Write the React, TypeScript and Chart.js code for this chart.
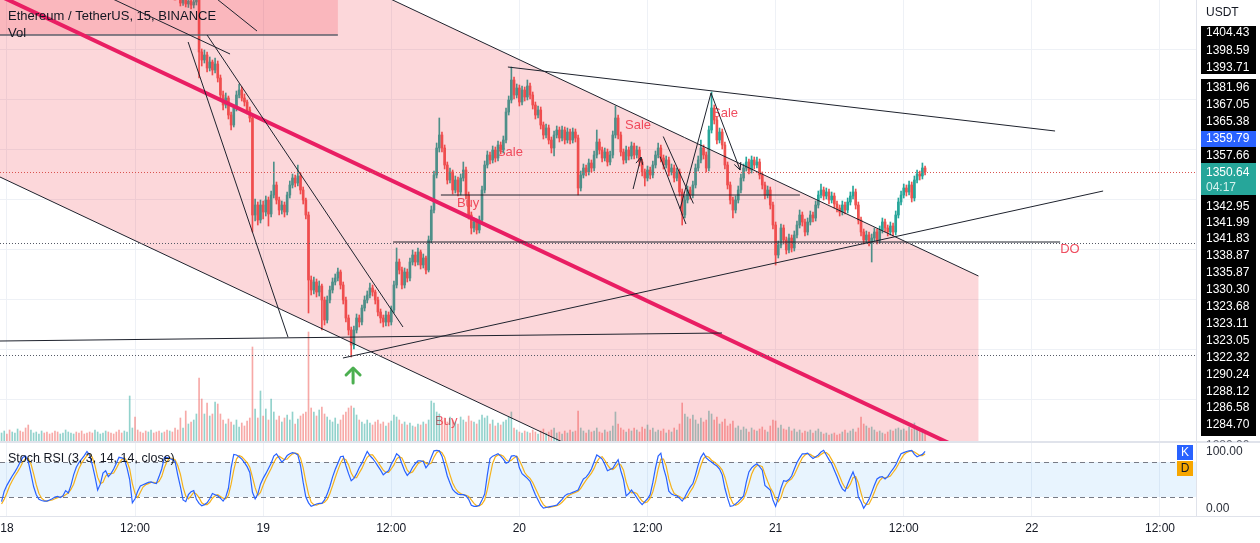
import React, { useEffect, useRef } from "react";
import { Chart, registerables } from "chart.js";

Chart.register(...registerables);

// ---------------- data ----------------
// bar index: 15-minute bars, 0 = day 18 00:00
const FIRST_BAR_INDEX = -2;
const CANDLE_START_INDEX = 60;
const FIRST_OPEN = 1392.0;

const CLOSES: number[] = [
  1392.5, 1393.8, 1392.1, 1391.0, 1392.6, 1394.2, 1395.0, 1393.6, 1392.2, 1390.8,
  1389.9, 1391.4, 1392.8, 1394.0, 1395.6, 1396.2, 1394.8, 1393.5, 1392.0, 1391.2,
  1390.4, 1389.6, 1390.8, 1392.2, 1393.0, 1394.4, 1395.8, 1397.0, 1396.4, 1395.1,
  1393.8, 1392.6, 1391.5, 1390.2, 1389.4, 1390.6, 1391.8, 1393.2, 1394.6, 1395.2,
  1394.0, 1392.8, 1391.6, 1390.4, 1389.2, 1388.6, 1389.8, 1390.6, 1391.4, 1392.2,
  1391.0, 1390.2, 1389.4, 1388.8, 1388.2, 1389.0, 1389.8, 1389.0, 1388.2, 1387.6,
  1388.0, 1387.4, 1386.8, 1387.2, 1386.6, 1386.4,
  1386.0, 1384.4, 1385.4, 1384.2, 1384.8, 1384.0, 1384.6, 1385.0, 1374.6, 1373.0,
  1374.0, 1371.4, 1372.6, 1371.0, 1372.2, 1369.4, 1366.0, 1364.0, 1365.4, 1362.0,
  1360.0, 1363.4, 1366.0, 1367.0, 1365.4, 1364.6, 1363.0, 1361.4, 1342.0, 1344.0,
  1341.0, 1344.0, 1342.6, 1345.0, 1342.2, 1346.0, 1348.0, 1345.0, 1343.0, 1344.0,
  1342.6, 1346.0, 1348.0, 1349.4, 1348.4, 1349.8, 1347.0, 1345.0, 1342.0, 1329.0,
  1327.0, 1328.6, 1326.6, 1327.8, 1325.0, 1321.0, 1325.0, 1327.0, 1328.6, 1329.4,
  1330.6, 1328.0, 1325.0, 1321.4, 1319.0, 1316.0, 1319.0, 1321.4, 1320.6, 1323.4,
  1325.0, 1326.0, 1327.4, 1326.6, 1325.0, 1322.6, 1321.4, 1320.6, 1322.0, 1320.6,
  1323.0, 1328.0, 1332.6, 1331.0, 1328.0, 1330.6, 1329.4, 1332.6, 1334.0, 1332.6,
  1334.6, 1332.0, 1333.4, 1331.0, 1337.0, 1343.0, 1350.0, 1355.4, 1358.0, 1355.4,
  1352.0, 1349.0, 1350.6, 1347.0, 1349.0, 1346.6, 1349.4, 1351.0, 1346.0, 1342.0,
  1339.4, 1340.6, 1339.0, 1341.0, 1347.0, 1352.0, 1354.0, 1353.0, 1355.0, 1353.4,
  1356.0, 1355.0, 1357.0, 1362.6, 1365.0, 1369.0, 1366.0, 1367.4, 1364.6, 1367.0,
  1365.6, 1367.8, 1366.0, 1364.0, 1362.0, 1363.0, 1360.0, 1358.0, 1359.4, 1357.0,
  1355.4, 1358.0, 1359.0, 1357.4, 1359.0, 1357.0, 1358.6, 1357.0, 1358.6, 1357.4,
  1347.4, 1350.0, 1351.4, 1350.6, 1352.4, 1351.4, 1354.0, 1356.6, 1355.0, 1353.4,
  1354.6, 1352.6, 1354.0, 1358.0, 1361.4, 1358.0, 1354.6, 1353.0, 1355.0, 1353.8,
  1355.8, 1354.0, 1355.0, 1352.6, 1350.6, 1349.4, 1351.0, 1350.0, 1352.0, 1354.0,
  1355.4, 1353.4, 1352.0, 1353.0, 1350.6, 1351.4, 1349.4, 1350.6, 1346.6, 1342.0,
  1345.0, 1347.0, 1346.0, 1348.0, 1351.4, 1353.0, 1355.4, 1354.0, 1351.4, 1359.0,
  1363.4, 1361.0, 1357.0, 1358.6, 1356.0, 1352.0, 1348.0, 1345.0, 1343.0, 1345.0,
  1347.0, 1349.4, 1351.4, 1352.6, 1351.0, 1353.0, 1352.0, 1352.6, 1350.0, 1348.0,
  1346.0, 1347.0, 1344.0, 1340.0, 1334.0, 1336.0, 1339.4, 1337.0, 1335.0, 1337.4,
  1335.4, 1338.0, 1340.0, 1342.0, 1340.6, 1338.6, 1340.6, 1342.0, 1341.4, 1344.0,
  1346.0, 1347.0, 1345.8, 1346.6, 1345.0, 1345.8, 1344.2, 1343.4, 1342.6, 1344.0,
  1343.0, 1344.6, 1345.8, 1346.6, 1344.0, 1341.0, 1338.6, 1337.0, 1338.0, 1336.6,
  1337.4, 1338.6, 1337.0, 1339.0, 1340.6, 1339.4, 1338.6, 1339.8, 1338.6, 1342.0,
  1344.6, 1346.0, 1347.4, 1346.6, 1348.0, 1345.4, 1349.0, 1350.2, 1349.8, 1351.4, 1350.64,
];

// highs / lows from CANDLE_START_INDEX
const HIGHS: number[] = [
  1388.0, 1387.8, 1387.6, 1387.2, 1387.0, 1386.6, 1386.0, 1385.8, 1385.6, 1385.2,
  1385.6, 1386.0, 1385.8, 1375.2, 1375.0, 1374.6, 1373.6, 1373.0, 1373.4, 1372.8,
  1370.0, 1366.8, 1366.4, 1365.8, 1362.6, 1364.0, 1366.8, 1368.2, 1367.6, 1366.2,
  1365.0, 1363.6, 1362.0, 1345.2, 1344.6, 1345.0, 1344.8, 1345.8, 1345.6, 1346.8,
  1352.6, 1348.6, 1345.6, 1344.8, 1344.6, 1346.6, 1348.8, 1350.2, 1350.0, 1352.0,
  1350.4, 1347.6, 1345.4, 1342.6, 1329.8, 1329.6, 1329.2, 1328.8, 1328.2, 1325.6,
  1325.8, 1327.8, 1329.4, 1330.2, 1331.4, 1331.0, 1328.6, 1325.6, 1322.0, 1319.6,
  1319.8, 1322.2, 1322.0, 1324.0, 1325.8, 1326.8, 1328.4, 1328.0, 1327.0, 1325.6,
  1323.2, 1322.0, 1322.8, 1322.6, 1323.8, 1328.8, 1335.4, 1333.2, 1331.6, 1331.4,
  1331.2, 1333.4, 1335.0, 1334.6, 1335.4, 1335.0, 1334.2, 1333.8, 1337.8, 1343.8,
  1350.8, 1356.4, 1361.4, 1358.6, 1356.0, 1352.6, 1351.4, 1351.0, 1349.8, 1349.6,
  1350.2, 1352.6, 1351.6, 1346.6, 1342.6, 1341.4, 1341.2, 1341.8, 1347.8, 1352.8,
  1354.8, 1354.6, 1355.8, 1355.6, 1356.8, 1356.6, 1357.8, 1363.4, 1365.8, 1371.6,
  1369.6, 1368.2, 1368.0, 1367.8, 1367.6, 1369.0, 1368.4, 1366.6, 1364.6, 1363.8,
  1363.6, 1360.6, 1360.2, 1360.0, 1357.6, 1358.8, 1359.8, 1359.6, 1359.8, 1359.6,
  1359.4, 1359.2, 1359.4, 1359.2, 1358.0, 1350.8, 1352.2, 1352.0, 1353.2, 1353.0,
  1354.8, 1359.0, 1357.2, 1355.6, 1355.4, 1355.2, 1354.8, 1358.8, 1363.8, 1362.0,
  1358.6, 1355.2, 1355.8, 1355.6, 1356.6, 1356.4, 1355.8, 1355.6, 1353.2, 1351.2,
  1351.8, 1351.6, 1352.8, 1354.8, 1356.4, 1356.0, 1354.0, 1353.8, 1353.6, 1352.2,
  1352.0, 1351.4, 1351.2, 1347.2, 1345.8, 1347.8, 1347.6, 1348.8, 1352.2, 1353.8,
  1357.0, 1356.0, 1354.6, 1359.8, 1366.6, 1364.0, 1361.6, 1359.4, 1359.2, 1356.6,
  1352.6, 1348.6, 1345.6, 1345.8, 1347.8, 1350.2, 1352.2, 1353.6, 1353.2, 1353.8,
  1353.6, 1353.6, 1353.2, 1350.6, 1348.6, 1347.8, 1347.6, 1344.6, 1340.6, 1336.8,
  1340.2, 1340.0, 1337.6, 1338.2, 1338.0, 1338.8, 1340.8, 1343.0, 1342.6, 1341.2,
  1341.4, 1342.8, 1342.6, 1344.8, 1346.8, 1348.2, 1347.6, 1347.4, 1347.2, 1346.6,
  1346.4, 1344.8, 1344.0, 1344.8, 1344.6, 1345.4, 1346.6, 1347.8, 1347.2, 1344.6,
  1341.6, 1339.2, 1338.8, 1338.6, 1338.2, 1339.4, 1339.2, 1339.8, 1341.4, 1341.2,
  1340.0, 1340.6, 1340.4, 1342.8, 1345.4, 1346.8, 1348.2, 1348.0, 1348.8, 1348.6,
  1349.8, 1351.0, 1350.8, 1352.4, 1351.8,
];

const LOWS: number[] = [
  1386.2, 1386.3, 1385.9, 1385.6, 1385.2, 1383.8, 1383.9, 1383.6, 1383.5, 1383.2,
  1383.4, 1384.0, 1369.4, 1371.8, 1372.4, 1370.6, 1370.8, 1370.0, 1370.4, 1368.6,
  1365.2, 1363.0, 1363.4, 1361.2, 1359.0, 1359.6, 1362.8, 1365.4, 1364.8, 1363.8,
  1362.2, 1360.6, 1338.6, 1340.8, 1340.0, 1340.4, 1341.2, 1341.8, 1339.8, 1341.6,
  1345.4, 1344.2, 1342.0, 1342.2, 1341.6, 1342.0, 1345.4, 1347.4, 1347.6, 1347.8,
  1346.2, 1344.2, 1341.2, 1322.4, 1326.0, 1326.2, 1325.6, 1325.8, 1319.0, 1320.0,
  1320.4, 1324.4, 1326.4, 1328.0, 1328.8, 1327.2, 1324.2, 1320.6, 1318.0, 1313.6,
  1315.2, 1318.4, 1319.6, 1320.0, 1322.8, 1324.4, 1325.4, 1325.8, 1324.2, 1321.8,
  1320.4, 1319.6, 1319.8, 1319.8, 1320.0, 1322.4, 1327.4, 1330.2, 1327.2, 1327.4,
  1328.6, 1328.8, 1332.0, 1331.8, 1332.0, 1331.2, 1331.4, 1330.2, 1330.6, 1336.4,
  1342.4, 1349.4, 1354.6, 1354.6, 1351.2, 1348.2, 1348.4, 1346.2, 1346.4, 1345.8,
  1346.0, 1348.8, 1345.2, 1341.2, 1338.2, 1338.6, 1338.2, 1338.4, 1340.4, 1346.4,
  1351.4, 1352.2, 1352.4, 1352.6, 1352.8, 1354.2, 1354.4, 1356.4, 1362.0, 1364.4,
  1365.2, 1365.4, 1363.8, 1364.0, 1364.8, 1365.0, 1365.2, 1363.2, 1361.2, 1361.4,
  1359.2, 1357.2, 1357.4, 1356.2, 1354.4, 1353.8, 1357.4, 1356.6, 1356.8, 1356.2,
  1356.4, 1356.2, 1356.4, 1356.6, 1346.0, 1346.8, 1349.4, 1349.8, 1350.0, 1350.6,
  1350.8, 1353.4, 1354.2, 1352.6, 1352.8, 1351.8, 1352.0, 1353.4, 1357.4, 1357.2,
  1353.8, 1352.2, 1352.4, 1353.0, 1353.2, 1353.2, 1353.4, 1351.8, 1349.8, 1347.8,
  1348.8, 1349.2, 1349.4, 1351.4, 1353.4, 1352.6, 1351.2, 1351.4, 1349.8, 1350.0,
  1348.6, 1348.8, 1345.8, 1340.0, 1341.4, 1344.4, 1345.2, 1345.4, 1347.4, 1350.8,
  1352.4, 1353.2, 1350.6, 1350.8, 1358.4, 1360.2, 1356.2, 1356.4, 1355.2, 1351.2,
  1347.2, 1344.2, 1341.4, 1342.4, 1344.4, 1346.4, 1348.8, 1350.8, 1350.2, 1350.4,
  1351.2, 1351.4, 1349.2, 1347.2, 1345.2, 1345.4, 1343.2, 1339.2, 1332.0, 1333.4,
  1335.4, 1336.2, 1334.2, 1334.4, 1334.6, 1334.8, 1337.4, 1339.4, 1339.8, 1337.8,
  1338.0, 1340.0, 1340.6, 1340.8, 1343.4, 1345.4, 1345.0, 1345.2, 1344.2, 1344.4,
  1343.4, 1342.6, 1341.8, 1342.0, 1342.2, 1342.4, 1344.0, 1345.2, 1343.2, 1340.2,
  1337.8, 1336.2, 1336.4, 1335.8, 1332.6, 1336.8, 1336.2, 1336.4, 1338.4, 1338.6,
  1337.8, 1338.0, 1337.8, 1338.0, 1341.4, 1344.0, 1345.4, 1345.8, 1346.0, 1344.6,
  1344.8, 1348.4, 1349.0, 1349.2, 1350.0,
];

// volume in thousands, from FIRST_BAR_INDEX
const VOLUME_K: number[] = [
  9, 11, 8, 12, 10, 9, 13, 11, 10, 14,
  17, 12, 9, 10, 8, 11, 9, 10, 8, 9,
  11, 10, 8, 9, 12, 10, 9, 8, 10, 9,
  11, 8, 9, 10, 9, 12, 10, 8, 9, 11,
  10, 9, 8, 10, 12, 9, 11, 10,
  46, 14, 25, 12, 10, 9, 11, 10, 12, 9, 10, 11, 9, 10, 12, 11, 10, 14, 12,
  24, 14, 31, 18, 20, 22, 28, 64, 43, 28,
  39, 26, 28, 40, 38, 28, 22, 18, 23, 20,
  17, 22, 15, 19, 16, 21, 24, 95, 33, 24,
  51, 26, 33, 22, 43, 30, 22, 26, 20, 24,
  27, 22, 30, 18, 23, 26, 28, 30, 110, 34,
  30, 26, 32, 35, 28, 25, 22, 20, 24, 18,
  22, 27, 30, 34, 36, 34, 27, 22, 20, 18,
  22, 19, 17, 20, 22, 18, 20, 16, 19, 21,
  27, 25, 22, 18, 20, 17, 19, 16, 15, 18,
  17, 20, 18, 22, 41, 39, 30, 28, 22, 24,
  20, 25, 22, 20, 18, 25, 22, 20, 26, 21,
  20, 18, 22, 27, 24, 26, 18, 22, 16, 19,
  17, 20, 22, 25, 30, 14, 12, 10, 9, 11,
  10, 9, 12, 10, 8, 11, 13, 9, 10, 12,
  14, 9, 10, 8, 11, 9, 12, 10, 11, 31,
  14, 11, 9, 12, 10, 11, 14, 10, 9, 12,
  10, 11, 16, 30, 18, 14, 12, 10, 13, 11,
  14, 12, 10, 15, 13, 17, 12, 14, 10, 12,
  11, 13, 9, 12, 10, 14, 12, 18, 39, 28,
  25, 23, 27, 22, 18, 24, 20, 22, 31, 28,
  22, 25, 18, 20, 23, 16, 18, 21, 14, 16,
  12, 15, 13, 10, 14, 12, 11, 13, 15, 12,
  10, 16, 22, 21, 14, 17, 13, 12, 15, 11,
  13, 10, 12, 9, 11, 10, 12, 9, 11, 13,
  10, 8, 9, 7, 8, 9, 7, 8, 10, 12,
  9, 11, 13, 10, 14, 25, 18, 16, 14, 15,
  12, 10, 11, 9, 8, 10, 12, 11, 13, 14,
  12, 13, 11, 15, 13, 19, 14, 12, 13, 8,
];

// Stoch RSI (3, 3, 14, 14) from FIRST_BAR_INDEX
const STOCH_K: number[] = [
  12, 30, 40, 48, 56, 63, 71, 80, 88, 90,
  81, 60, 38, 24, 16, 14, 13, 13, 15, 17,
  20, 21, 19, 22, 31, 27, 40, 58, 71, 79,
  85, 91, 98, 92, 75, 55, 32, 42, 61, 65,
  55, 60, 68, 78, 88, 87, 85, 70, 50, 10,
  17, 30, 39, 41, 43, 45, 46, 44, 43, 55,
  68, 88, 88, 86, 84, 81, 58, 38, 15, 12,
  24, 29, 31, 16, 9, 5, 7, 10, 17, 26,
  24, 22, 18, 13, 20, 35, 70, 93, 92, 89,
  85, 79, 72, 62, 28, 17, 25, 42, 52, 60,
  69, 78, 90, 94, 87, 80, 84, 91, 94, 96,
  95, 92, 74, 45, 20, 10, 4, 6, 8, 9,
  9, 15, 25, 38, 54, 67, 78, 89, 90, 74,
  60, 48, 52, 60, 70, 78, 88, 98, 91, 86,
  80, 73, 66, 58, 62, 65, 76, 84, 94, 90,
  77, 65, 57, 62, 71, 77, 82, 82, 81, 70,
  76, 88, 99, 100, 99, 90, 74, 56, 44, 33,
  28, 25, 24, 24, 22, 16, 6, 4, 4, 6,
  15, 25, 58, 86, 90, 92, 94, 90, 85, 78,
  80, 90, 91, 89, 70, 60, 56, 52, 47, 35,
  24, 15, 6, 1, 2, 3, 4, 5, 6, 11,
  16, 22, 25, 26, 28, 30, 32, 42, 51, 54,
  60, 68, 80, 92, 89, 85, 76, 65, 67, 69,
  77, 84, 65, 50, 22, 26, 32, 26, 19, 12,
  7, 12, 17, 24, 45, 70, 90, 95, 70, 54,
  30, 25, 23, 22, 18, 13, 20, 29, 37, 43,
  58, 75, 88, 95, 87, 83, 80, 76, 73, 68,
  58, 35, 18, 4, 5, 8, 12, 17, 22, 45,
  63, 70, 74, 77, 72, 66, 40, 36, 32, 15,
  4, 18, 35, 48, 47, 50, 56, 68, 79, 87,
  94, 94, 95, 90, 86, 89, 92, 97, 100, 92,
  84, 77, 66, 55, 43, 34, 30, 42, 53, 63,
  50, 20, 12, 1, 8, 16, 28, 40, 51, 54,
  55, 51, 55, 62, 68, 75, 85, 94, 96, 98,
  99, 100, 93, 89, 91, 93, 98,
];

const STOCH_D: number[] = [
  8, 16, 27, 39, 48, 56, 63, 71, 80, 86,
  86, 77, 60, 41, 26, 18, 14, 13, 14, 15,
  17, 19, 20, 21, 24, 27, 33, 42, 56, 69,
  78, 85, 91, 94, 88, 74, 54, 43, 45, 56,
  60, 60, 61, 69, 78, 84, 87, 81, 68, 43,
  26, 19, 28, 37, 41, 43, 45, 45, 44, 47,
  55, 70, 81, 87, 86, 84, 74, 59, 37, 22,
  17, 22, 28, 25, 19, 10, 7, 7, 11, 18,
  22, 24, 21, 18, 17, 23, 42, 66, 85, 91,
  89, 84, 79, 71, 54, 36, 23, 28, 40, 51,
  60, 69, 79, 87, 90, 87, 84, 85, 90, 94,
  95, 94, 87, 70, 46, 25, 11, 7, 6, 8,
  9, 11, 16, 26, 39, 53, 66, 78, 86, 84,
  75, 61, 53, 53, 61, 69, 79, 88, 92, 92,
  86, 80, 73, 66, 62, 62, 68, 75, 85, 89,
  87, 77, 66, 61, 63, 70, 77, 80, 82, 78,
  76, 78, 88, 96, 99, 96, 88, 73, 58, 44,
  35, 29, 26, 24, 23, 21, 15, 9, 5, 5,
  8, 15, 33, 56, 78, 89, 92, 92, 90, 84,
  81, 83, 87, 90, 83, 73, 62, 56, 52, 45,
  35, 25, 15, 7, 3, 2, 3, 4, 5, 7,
  11, 16, 21, 24, 26, 28, 30, 35, 42, 49,
  55, 61, 69, 80, 87, 89, 83, 75, 69, 67,
  71, 77, 75, 66, 46, 33, 27, 28, 26, 19,
  13, 10, 12, 18, 29, 46, 68, 85, 85, 73,
  51, 36, 26, 23, 21, 18, 17, 21, 29, 36,
  46, 59, 74, 86, 90, 88, 83, 80, 76, 72,
  66, 54, 37, 19, 9, 6, 8, 12, 17, 28,
  43, 59, 69, 74, 74, 72, 59, 47, 36, 28,
  17, 12, 19, 34, 43, 48, 51, 58, 68, 78,
  87, 92, 94, 93, 90, 88, 89, 93, 96, 96,
  92, 84, 76, 66, 55, 44, 36, 35, 42, 53,
  55, 44, 27, 11, 7, 8, 17, 28, 40, 48,
  53, 53, 54, 56, 62, 68, 76, 85, 92, 96,
  98, 99, 97, 94, 91, 91, 94,
];

const TIME_TICKS = [0, 48, 96, 144, 192, 240, 288, 336, 384, 432];
const TIME_LABELS = ["18", "12:00", "19", "12:00", "20", "12:00", "21", "12:00", "22", "12:00"];
const PRICE_GRID = [1305, 1315, 1325, 1335, 1345, 1355, 1365, 1375];
const PRICE_MIN = 1296.6;
const PRICE_MAX = 1385.0;
const X_MIN = -2.585;
const X_MAX = 445.5;
const VOLUME_MAX = 442;
const RSI_MIN = -12.5;
const RSI_MAX = 112.5;

const LAST_PRICE = 1350.64;
const COUNTDOWN = "04:17";
const PRICE_LABELS = [
  "1404.43", "1398.59", "1393.71", "1381.96", "1367.05", "1365.38", "1359.79", "1357.66",
  "1350.64", "1342.95", "1341.99", "1341.83", "1338.87", "1335.87", "1330.30", "1323.68",
  "1323.11", "1323.05", "1322.32", "1290.24", "1288.12", "1286.58", "1284.70", "1280.00",
];
const PRICE_LABEL_Y = [33, 51, 68, 88, 105, 122, 139, 156, 173, 207, 223, 239, 256, 273, 290, 307, 324, 341, 358, 375, 392, 408, 425, 446];
const HIGHLIGHT_LABEL = "1359.79";

// drawings (bar index, price)
const CHANNEL_UPPER: number[][] = [[-3, 1422.1], [364, 1329.8]];
const CHANNEL_LOWER: number[][] = [[-3, 1349.7], [364, 1257.4]];
const CHANNEL_MIDDLE: number[][] = [[-3, 1385.9], [364, 1293.6]];
const ZONE_BOX = [-3, 1395.0, 124, 1378.0];
const TREND_LINES: number[][] = [
  [34.9, 1386.4, 83.6, 1374.2],
  [76.1, 1386.3, 93.7, 1378.8],
  [67.9, 1376.6, 105.3, 1317.6],
  [75.0, 1378.0, 148.4, 1319.6],
  [-2.6, 1316.8, 267.9, 1318.4],
  [125.9, 1313.4, 410.7, 1346.8],
  [187.7, 1371.6, 392.7, 1358.8],
  [162.6, 1346.0, 297.1, 1346.0],
  [144.7, 1336.6, 394.6, 1336.6],
  [245.9, 1357.7, 257.2, 1344.3],
  [244.7, 1353.7, 254.4, 1340.2],
  [252.2, 1343.2, 263.8, 1366.4],
];
const ARROW_LINES: number[][] = [
  [234.6, 1347.2, 237.6, 1353.6],
  [263.8, 1366.4, 274.7, 1351.0],
];
const DOTTED_LEVELS = [1336.4, 1314.0];
const NOTES: [string, number, number][] = [
  ["Sale", 231.6, 1360.0],
  ["Sale", 264.2, 1362.4],
  ["Sale", 183.6, 1354.6],
  ["Buy", 168.6, 1344.4],
  ["Buy", 160.4, 1300.8],
  ["DO", 394.6, 1335.2],
];
const BUY_ARROW = [129.7, 1311.4];

// ---------------- styles ----------------
const FONT = "'Liberation Sans', Arial, sans-serif";
const UP = "#26a69a";
const DOWN = "#ef5350";
const GRID = "#eef1f6";
const PINK = "rgba(242,54,69,0.2)";
const NOTE_COLOR = "#ef4f61";
const K_COLOR = "#2962ff";
const D_COLOR = "#f5b21b";
const SEP = "#e0e3eb";

function pt(chart: any, i: number, p: number) {
  return [chart.scales.x.getPixelForValue(i), chart.scales.y.getPixelForValue(p)];
}

function clipArea(ctx: CanvasRenderingContext2D, a: any) {
  ctx.beginPath();
  ctx.rect(a.left, a.top, a.right - a.left, a.bottom - a.top);
  ctx.clip();
}

function line(ctx: CanvasRenderingContext2D, x1: number, y1: number, x2: number, y2: number) {
  ctx.beginPath();
  ctx.moveTo(x1, y1);
  ctx.lineTo(x2, y2);
  ctx.stroke();
}

const mainDecor = {
  id: "mainDecor",
  beforeDatasetsDraw(chart: any) {
    const { ctx, chartArea: a } = chart;
    ctx.save();
    clipArea(ctx, a);
    ctx.font = `13px ${FONT}`;
    ctx.fillStyle = NOTE_COLOR;
    ctx.textAlign = "left";
    ctx.textBaseline = "middle";
    NOTES.forEach(([t, i, p]) => {
      const [x, y] = pt(chart, i, p);
      ctx.fillText(t, x, y);
    });
    ctx.restore();
  },
  afterDatasetsDraw(chart: any) {
    const { ctx, chartArea: a } = chart;
    ctx.save();
    clipArea(ctx, a);
    // channel fill
    const u1 = pt(chart, CHANNEL_UPPER[0][0], CHANNEL_UPPER[0][1]);
    const u2 = pt(chart, CHANNEL_UPPER[1][0], CHANNEL_UPPER[1][1]);
    const l1 = pt(chart, CHANNEL_LOWER[0][0], CHANNEL_LOWER[0][1]);
    const l2 = pt(chart, CHANNEL_LOWER[1][0], CHANNEL_LOWER[1][1]);
    ctx.fillStyle = PINK;
    ctx.beginPath();
    ctx.moveTo(u1[0], u1[1]);
    ctx.lineTo(u2[0], u2[1]);
    ctx.lineTo(l2[0], l2[1]);
    ctx.lineTo(l1[0], l1[1]);
    ctx.closePath();
    ctx.fill();
    // zone box
    const b1 = pt(chart, ZONE_BOX[0], ZONE_BOX[1]);
    const b2 = pt(chart, ZONE_BOX[2], ZONE_BOX[3]);
    ctx.fillRect(b1[0], b1[1], b2[0] - b1[0], b2[1] - b1[1]);
    ctx.strokeStyle = "#5d606b";
    ctx.lineWidth = 1.5;
    line(ctx, b1[0], b2[1], b2[0], b2[1]);
    // channel borders
    ctx.strokeStyle = "#1e222d";
    ctx.lineWidth = 1;
    line(ctx, u1[0], u1[1], u2[0], u2[1]);
    line(ctx, l1[0], l1[1], l2[0], l2[1]);
    // middle line
    const m1 = pt(chart, CHANNEL_MIDDLE[0][0], CHANNEL_MIDDLE[0][1]);
    const m2 = pt(chart, CHANNEL_MIDDLE[1][0], CHANNEL_MIDDLE[1][1]);
    ctx.strokeStyle = "#e91e63";
    ctx.lineWidth = 4;
    line(ctx, m1[0], m1[1], m2[0], m2[1]);
    // dotted levels
    ctx.lineWidth = 1;
    ctx.setLineDash([1, 2]);
    ctx.strokeStyle = "#555a66";
    DOTTED_LEVELS.forEach((p) => {
      const y = Math.round(chart.scales.y.getPixelForValue(p)) + 0.5;
      line(ctx, a.left, y, a.right, y);
    });
    ctx.strokeStyle = "#d9534f";
    const yl = Math.round(chart.scales.y.getPixelForValue(LAST_PRICE)) + 0.5;
    line(ctx, a.left, yl, a.right, yl);
    ctx.setLineDash([]);
    // trend lines
    ctx.strokeStyle = "#1e222d";
    ctx.lineWidth = 1;
    TREND_LINES.forEach(([i1, p1, i2, p2]) => {
      const s = pt(chart, i1, p1);
      const e = pt(chart, i2, p2);
      line(ctx, s[0], s[1], e[0], e[1]);
    });
    ARROW_LINES.forEach(([i1, p1, i2, p2]) => {
      const s = pt(chart, i1, p1);
      const e = pt(chart, i2, p2);
      line(ctx, s[0], s[1], e[0], e[1]);
      const ang = Math.atan2(s[1] - e[1], s[0] - e[0]);
      [0.45, -0.45].forEach((d) => {
        line(ctx, e[0], e[1], e[0] + 8 * Math.cos(ang + d), e[1] + 8 * Math.sin(ang + d));
      });
    });
    // buy arrow
    const g = pt(chart, BUY_ARROW[0], BUY_ARROW[1]);
    ctx.strokeStyle = "#4caf50";
    ctx.lineWidth = 3;
    ctx.lineCap = "round";
    ctx.lineJoin = "round";
    ctx.beginPath();
    ctx.moveTo(g[0] - 7, g[1] + 7);
    ctx.lineTo(g[0], g[1]);
    ctx.lineTo(g[0] + 7, g[1] + 7);
    ctx.stroke();
    line(ctx, g[0], g[1] + 1, g[0], g[1] + 15);
    ctx.restore();
  },
  afterDraw(chart: any) {
    const { ctx, chartArea: a } = chart;
    ctx.save();
    // legend
    ctx.fillStyle = "#131722";
    ctx.font = `13px ${FONT}`;
    ctx.textAlign = "left";
    ctx.textBaseline = "middle";
    ctx.fillText("Ethereum / TetherUS, 15, BINANCE", 8, 16);
    ctx.fillText("Vol", 8, 33);
    // separators
    ctx.strokeStyle = SEP;
    ctx.lineWidth = 1;
    line(ctx, a.right + 0.5, 0, a.right + 0.5, chart.height);
    line(ctx, 0, chart.height - 0.5, chart.width, chart.height - 0.5);
    // price axis
    const ax = a.right + 5;
    const aw = 55;
    ctx.fillStyle = "#131722";
    ctx.font = `12px ${FONT}`;
    ctx.fillText("USDT", a.right + 10, 13);
    ctx.fillStyle = "#000000";
    ctx.fillRect(ax, 26, aw, 48);
    ctx.fillRect(ax, 79, aw, 357);
    PRICE_LABELS.forEach((t, k) => {
      const y = PRICE_LABEL_Y[k];
      if (t === HIGHLIGHT_LABEL) {
        ctx.fillStyle = "#2962ff";
        ctx.fillRect(ax, y - 8, aw, 16);
      }
      if (t === String(LAST_PRICE)) {
        ctx.fillStyle = UP;
        ctx.fillRect(ax, y - 10, aw, 32);
      }
      ctx.fillStyle = k === PRICE_LABELS.length - 1 ? "#6a6d78" : "#ffffff";
      ctx.fillText(t, a.right + 10, y);
      if (t === String(LAST_PRICE)) {
        ctx.fillStyle = "#d6f2ee";
        ctx.fillText(COUNTDOWN, a.right + 10, y + 15);
      }
    });
    ctx.restore();
  },
};

const rsiDecor = {
  id: "rsiDecor",
  beforeDatasetsDraw(chart: any) {
    const { ctx, chartArea: a } = chart;
    const ys = chart.scales.y;
    const y80 = ys.getPixelForValue(80);
    const y20 = ys.getPixelForValue(20);
    ctx.save();
    ctx.fillStyle = "rgba(33,150,243,0.1)";
    ctx.fillRect(a.left, y80, a.right - a.left, y20 - y80);
    ctx.strokeStyle = "#787b86";
    ctx.lineWidth = 1;
    ctx.setLineDash([5, 4]);
    line(ctx, a.left, Math.round(y80) + 0.5, a.right, Math.round(y80) + 0.5);
    line(ctx, a.left, Math.round(y20) + 0.5, a.right, Math.round(y20) + 0.5);
    ctx.restore();
  },
  afterDraw(chart: any) {
    const { ctx, chartArea: a } = chart;
    const ys = chart.scales.y;
    ctx.save();
    ctx.fillStyle = "#131722";
    ctx.font = `12.5px ${FONT}`;
    ctx.textAlign = "left";
    ctx.textBaseline = "middle";
    ctx.fillText("Stoch RSI (3, 3, 14, 14, close)", 8, 17);
    ctx.strokeStyle = SEP;
    ctx.lineWidth = 1;
    line(ctx, 0, 0.5, chart.width, 0.5);
    line(ctx, 0, a.bottom + 0.5, chart.width, a.bottom + 0.5);
    line(ctx, a.right + 0.5, 0, a.right + 0.5, a.bottom);
    ctx.fillStyle = "#2a2e39";
    ctx.font = `12px ${FONT}`;
    ctx.fillText("100.00", a.right + 10, ys.getPixelForValue(100) + 1);
    ctx.fillText("0.00", a.right + 10, ys.getPixelForValue(0));
    ctx.fillStyle = K_COLOR;
    ctx.fillRect(a.right - 19, 3, 16, 15);
    ctx.fillStyle = "#f7a600";
    ctx.fillRect(a.right - 19, 19, 16, 15);
    ctx.textAlign = "center";
    ctx.fillStyle = "#ffffff";
    ctx.fillText("K", a.right - 11, 11);
    ctx.fillStyle = "#131722";
    ctx.fillText("D", a.right - 11, 27);
    ctx.restore();
  },
};

export default function App() {
  const mainRef = useRef<HTMLCanvasElement>(null);
  const rsiRef = useRef<HTMLCanvasElement>(null);

  useEffect(() => {
    const opens = CLOSES.map((c, k) => (k === 0 ? FIRST_OPEN : CLOSES[k - 1]));
    const isUp = CLOSES.map((c, k) => c >= opens[k]);
    const barIndex = (k: number) => FIRST_BAR_INDEX + k;

    const volData = VOLUME_K.map((v, k) => ({ x: barIndex(k), y: v }));
    const volColors = VOLUME_K.map((v, k) => (isUp[k] ? "rgba(38,166,154,0.5)" : "rgba(239,83,80,0.5)"));

    const start = CANDLE_START_INDEX - FIRST_BAR_INDEX;
    const bodyData: any[] = [];
    const wickData: any[] = [];
    const candleColors: string[] = [];
    for (let j = 0; j < HIGHS.length; j++) {
      const k = start + j;
      bodyData.push({ x: barIndex(k), y: [opens[k], CLOSES[k]] });
      wickData.push({ x: barIndex(k), y: [LOWS[j], HIGHS[j]] });
      candleColors.push(isUp[k] ? UP : DOWN);
    }

    const xScale = (showLabels: boolean) => ({
      type: "linear",
      min: X_MIN,
      max: X_MAX,
      offset: false,
      grid: { color: GRID, offset: false, drawTicks: false },
      border: { display: false },
      ticks: {
        display: showLabels,
        padding: 5,
        autoSkip: false,
        maxRotation: 0,
        color: "#131722",
        font: { size: 12, family: FONT },
        callback: (_v: any, i: number) => TIME_LABELS[i],
      },
      afterBuildTicks: (s: any) => {
        s.ticks = TIME_TICKS.map((v) => ({ value: v }));
      },
      afterFit: (s: any) => {
        s.height = showLabels ? 27 : 0;
        s.paddingLeft = 0;
        s.paddingRight = 0;
      },
    });

    const main = new Chart(mainRef.current as HTMLCanvasElement, {
      type: "bar",
      data: {
        datasets: [
          { label: "body", data: bodyData, yAxisID: "y", backgroundColor: candleColors, barThickness: 2, minBarLength: 1, grouped: false, order: 0 } as any,
          { label: "wick", data: wickData, yAxisID: "y", backgroundColor: candleColors, barThickness: 1, grouped: false, order: 1 } as any,
          { label: "volume", data: volData, yAxisID: "yV", backgroundColor: volColors, barThickness: 1, grouped: false, order: 2 } as any,
        ],
      },
      options: {
        animation: false,
        responsive: false,
        events: [],
        layout: { padding: { left: 0, right: 64, top: 0, bottom: 0 } },
        plugins: { legend: { display: false }, tooltip: { enabled: false } },
        scales: {
          x: xScale(false) as any,
          y: {
            position: "right",
            min: PRICE_MIN,
            max: PRICE_MAX,
            grid: { color: GRID, drawTicks: false },
            border: { display: false },
            ticks: { display: false },
            afterBuildTicks: (s: any) => {
              s.ticks = PRICE_GRID.map((v) => ({ value: v }));
            },
            afterFit: (s: any) => {
              s.width = 0;
            },
          } as any,
          yV: { position: "right", display: false, min: 0, max: VOLUME_MAX } as any,
        },
      },
      plugins: [mainDecor],
    });

    const kData = STOCH_K.map((v, k) => ({ x: barIndex(k), y: v }));
    const dData = STOCH_D.map((v, k) => ({ x: barIndex(k), y: v }));
    const rsi = new Chart(rsiRef.current as HTMLCanvasElement, {
      type: "line",
      data: {
        datasets: [
          { label: "K", data: kData, borderColor: K_COLOR, borderWidth: 1.2, pointRadius: 0, tension: 0 },
          { label: "D", data: dData, borderColor: D_COLOR, borderWidth: 1.2, pointRadius: 0, tension: 0 },
        ],
      },
      options: {
        animation: false,
        responsive: false,
        events: [],
        layout: { padding: { left: 0, right: 64, top: 1, bottom: 0 } },
        plugins: { legend: { display: false }, tooltip: { enabled: false } },
        scales: {
          x: xScale(true) as any,
          y: { display: false, min: RSI_MIN, max: RSI_MAX },
        },
      },
      plugins: [rsiDecor],
    });

    return () => {
      main.destroy();
      rsi.destroy();
    };
  }, []);

  return (
    <div style={{ position: "fixed", left: 0, top: 0, width: 1260, height: 543, background: "#ffffff", overflow: "hidden" }}>
      <canvas ref={mainRef} width={1260} height={442} style={{ position: "absolute", left: 0, top: 0, width: 1260, height: 442, display: "block" }} />
      <canvas ref={rsiRef} width={1260} height={101} style={{ position: "absolute", left: 0, top: 442, width: 1260, height: 101, display: "block" }} />
    </div>
  );
}
